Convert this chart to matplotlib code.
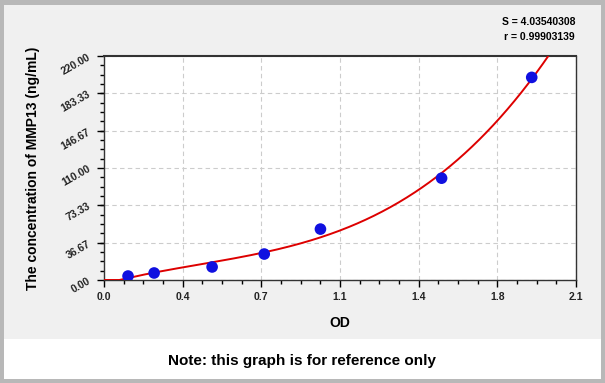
import numpy as np
import matplotlib.pyplot as plt
from matplotlib.patches import Rectangle
from matplotlib.ticker import MultipleLocator, FixedLocator

plt.rcParams['font.family'] = ['Liberation Sans', 'DejaVu Sans']

od = [0.107, 0.223, 0.481, 0.713, 0.963, 1.502, 1.903]
conc = [3.9, 6.9, 12.8, 25.5, 50.0, 100.0, 199.0]
xticks = [0.0, 0.35, 0.7, 1.05, 1.4, 1.75, 2.1]
xlabels = ['0.0', '0.4', '0.7', '1.1', '1.4', '1.8', '2.1']
yticks = [0.0, 36.67, 73.33, 110.0, 146.67, 183.33, 220.0]
s_text = 'S = 4.03540308'
r_text = 'r = 0.99903139'

fig = plt.figure(figsize=(6.05, 3.83), dpi=100)
fig.patch.set_facecolor('#b8b8b8')
fig.add_artist(Rectangle((4/605, 44/383), 597/605, 334/383, transform=fig.transFigure,
                         facecolor='#f0f0f0', edgecolor='none', zorder=-10))
fig.add_artist(Rectangle((4/605, 4/383), 597/605, 40/383, transform=fig.transFigure,
                         facecolor='white', edgecolor='none', zorder=-10))

ax = fig.add_axes([104/605, 1 - 280/383, 472/605, 224/383])
ax.set_facecolor('white')

# fitted curve from the points (cubic), clipped at zero
coef = np.polyfit(od, conc, 3)
xs = np.linspace(0, 2.1, 400)
ys = np.clip(np.polyval(coef, xs), 0, None)
ax.plot(xs, ys, color='#dd0000', lw=1.4, zorder=3)
ax.scatter(od, conc, s=70, color='#1010e0', zorder=4, edgecolors='none')

ax.set_xlim(0, 2.1)
ax.set_ylim(0, 220)
ax.xaxis.set_major_locator(FixedLocator(xticks))
ax.set_xticklabels(xlabels, fontsize=7.5, fontweight='bold', color='#222222')
ax.xaxis.set_minor_locator(MultipleLocator(0.0875))
ax.yaxis.set_major_locator(FixedLocator(yticks))
ax.set_yticklabels(['%.2f' % v for v in yticks], fontsize=7.5, rotation=30,
                   color='#222222', fontweight='bold')
ax.yaxis.set_minor_locator(MultipleLocator(220 / 24))
ax.tick_params(which='major', length=5, width=1, direction='out')
ax.tick_params(which='minor', length=3, width=1, direction='out')
ax.grid(True, which='major', ls=(0, (4, 3)), color='#cccccc', lw=0.8)
for sp in ax.spines.values():
    sp.set_color('#333333')
    sp.set_linewidth(1.0)
ax.spines['top'].set_linewidth(1.5)

ax.set_xlabel('OD', fontsize=10, fontweight='bold', labelpad=10)
ax.set_ylabel('The concentration of MMP13 (ng/mL)', fontsize=10, fontweight='bold', labelpad=14)

fig.text(575/605, 1 - 22/383, s_text, ha='right', va='center', fontsize=7.5, fontweight='bold')
fig.text(575/605, 1 - 37/383, r_text, ha='right', va='center', fontsize=7.5, fontweight='bold')
fig.text(302/605, 1 - 361/383, 'Note: this graph is for reference only', ha='center', va='center',
         fontsize=11, fontweight='bold')

fig.savefig('out.png', dpi=100, facecolor=fig.get_facecolor())
